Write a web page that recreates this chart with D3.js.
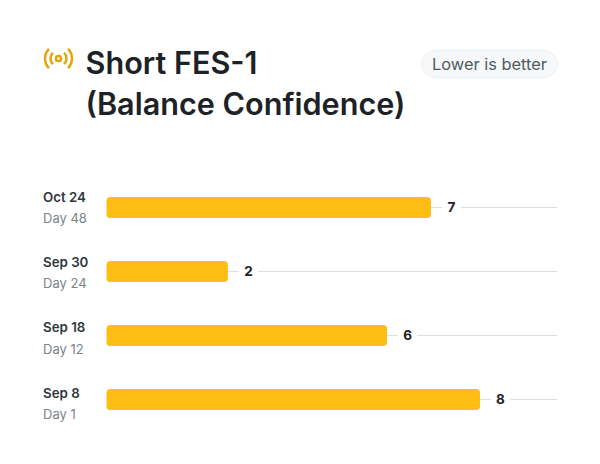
<!DOCTYPE html>
<html>
<head>
<meta charset="utf-8">
<script src="https://cdn.jsdelivr.net/npm/d3@7"></script>
<style>
html,body{margin:0;padding:0;background:#fff;}
svg{display:block;font-family:Inter,sans-serif;}
</style>
</head>
<body>
<svg width="600" height="464"></svg>
<script>
var dates=["Oct 24","Sep 30","Sep 18","Sep 8"];
var days=["Day 48","Day 24","Day 12","Day 1"];
var scoreLabels=["7","2","6","8"];
// bar lengths, the 2 bar is drawn longer than its label
var barValues=[6.95,2.6,6.01,8];
var titleLines=["Short FES-1","(Balance Confidence)"];

function main()
{
var svg=d3.select("svg");

var xScale=d3.scaleLinear().domain([0,8]).range([106.5,480]);
var yScale=d3.scalePoint().domain(dates).range([207.5,399.5]);
// the left labels are spaced a little wider than the bars
var labelScale=d3.scalePoint().domain(dates).range([201.6,397.8]);

// icon
var icon=svg.append("g")
.attr("transform","translate(58.5,58.5)")
.attr("fill","none")
.attr("stroke","#e5a50a")
.attr("stroke-width",2.5)
.attr("stroke-linecap","round");

icon.append("circle").attr("r",2.6);

[8,13.5].forEach(function(r){
    var arc=d3.arc().innerRadius(r).outerRadius(r);
    icon.append("path").attr("d",arc({startAngle:Math.PI*0.25,endAngle:Math.PI*0.75}));
    icon.append("path").attr("d",arc({startAngle:-Math.PI*0.25,endAngle:-Math.PI*0.75}));
});

// title
svg.selectAll(".title")
.data(titleLines)
.enter().append("text")
.attr("class","title")
.attr("x",85.5)
.attr("y",function(d,i){return 74+i*41;})
.attr("font-size","30.6px")
.attr("font-weight",600)
.attr("fill","#1d2226")
.text(function(d){return d;});

// badge
svg.append("rect")
.attr("x",421.5)
.attr("y",50.5)
.attr("width",136)
.attr("height",27)
.attr("rx",13.5)
.attr("fill","#f6f8fa")
.attr("stroke","#eef1f4");

svg.append("text")
.attr("x",489.5)
.attr("y",69.5)
.attr("text-anchor","middle")
.attr("font-size","16.4px")
.attr("fill","#4f5a60")
.text("Lower is better");

var row=svg.selectAll(".row")
.data(dates)
.enter().append("g")
.attr("class","row");

// grid line
row.append("line")
.attr("x1",function(d,i){return xScale(barValues[i]);})
.attr("x2",557.5)
.attr("y1",function(d){return yScale(d);})
.attr("y2",function(d){return yScale(d);})
.attr("stroke","#dcdfe1")
.attr("stroke-width",1.2);

row.append("rect")
.attr("fill","#fdbd13")
.attr("x",xScale(0))
.attr("y",function(d){return yScale(d)-10.5;})
.attr("width",function(d,i){return xScale(barValues[i])-xScale(0);})
.attr("height",21)
.attr("rx",4);

// white box behind the score so the line stops short of it
row.append("rect")
.attr("x",function(d,i){return xScale(barValues[i])+11;})
.attr("y",function(d){return yScale(d)-9;})
.attr("width",19)
.attr("height",18)
.attr("fill","#fff");

row.append("text")
.attr("x",function(d,i){return xScale(barValues[i])+20.5;})
.attr("y",function(d){return yScale(d)+4.5;})
.attr("text-anchor","middle")
.attr("font-size","13.5px")
.attr("font-weight",700)
.attr("fill","#1d2226")
.text(function(d,i){return scoreLabels[i];});

row.append("text")
.attr("x",43)
.attr("y",function(d){return labelScale(d);})
.attr("font-size","13.3px")
.attr("font-weight",600)
.attr("fill","#2f373c")
.text(function(d){return d;});

row.append("text")
.attr("x",43)
.attr("y",function(d){return labelScale(d)+21.4;})
.attr("font-size","13px")
.attr("fill","#7b8489")
.text(function(d,i){return days[i];});
}
main();
</script>
</body>
</html>
